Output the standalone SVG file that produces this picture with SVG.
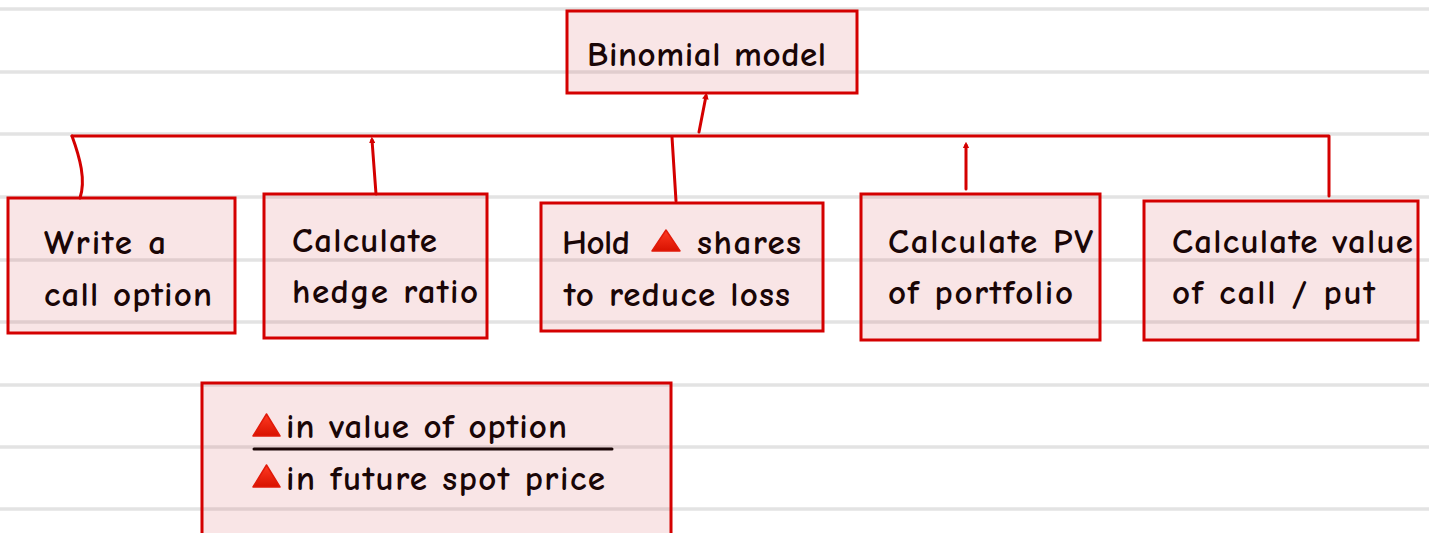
<svg xmlns="http://www.w3.org/2000/svg" width="1429" height="533" viewBox="0 0 1429 533">
  <defs>
    <style>
      .rule { stroke: #e3e3e3; stroke-width: 3.5; }
      .box { fill: rgb(215,82,88); fill-opacity: 0.15; stroke: #d40000; stroke-width: 3; }
      .lbl { font-family: "Comic Neue", "Liberation Sans", "DejaVu Sans", sans-serif; font-size: 35px; font-weight: 700; fill: #1a0606; }
      .wire { fill: none; stroke: #d40000; stroke-width: 3; stroke-linecap: round; stroke-linejoin: round; }
      .tri { fill: url(#triFill); stroke: #e11a0a; stroke-width: 1.5; stroke-linejoin: round; }
    </style>
    <linearGradient id="triFill" x1="0" y1="0" x2="0" y2="1">
      <stop offset="0" stop-color="#ff3a22"/>
      <stop offset="1" stop-color="#d81200"/>
    </linearGradient>
    <marker id="tip" viewBox="0 0 6 6" refX="3" refY="3" markerWidth="2.2" markerHeight="2.2" orient="auto-start-reverse">
      <path d="M0,0 L6,3 L0,6 z" fill="#d40000"/>
    </marker>
  </defs>

  <!-- ruled paper background -->
  <rect width="1429" height="533" fill="#ffffff"/>
  <g id="rules">
    <line class="rule" x1="0" y1="9" x2="1429" y2="9"/>
    <line class="rule" x1="0" y1="72" x2="1429" y2="72"/>
    <line class="rule" x1="0" y1="134" x2="1429" y2="134"/>
    <line class="rule" x1="0" y1="197" x2="1429" y2="197"/>
    <line class="rule" x1="0" y1="260" x2="1429" y2="260"/>
    <line class="rule" x1="0" y1="322" x2="1429" y2="322"/>
    <line class="rule" x1="0" y1="385" x2="1429" y2="385"/>
    <line class="rule" x1="0" y1="447" x2="1429" y2="447"/>
    <line class="rule" x1="0" y1="509" x2="1429" y2="509"/>
  </g>

  <!-- connectors -->
  <g id="connectors">
    <path class="wire" d="M72,136 L1329,136 L1329,196"/>
    <path class="wire" d="M72,136 C80,158 86,180 80,198"/>
    <path class="wire" d="M376,194 L372,140" marker-end="url(#tip)"/>
    <path class="wire" d="M699,132 L706,96" marker-end="url(#tip)"/>
    <path class="wire" d="M672,137 L676,201"/>
    <path class="wire" d="M966,189 L966,145" marker-end="url(#tip)"/>
  </g>

  <g id="node-binomial">
    <rect class="box" x="567" y="11" width="290" height="82"/>
    <text class="lbl" x="587" y="66" textLength="239" lengthAdjust="spacing">Binomial model</text>
  </g>

  <g id="node-write">
    <rect class="box" x="8" y="198" width="227" height="135"/>
    <text class="lbl" x="44" y="254" textLength="122" lengthAdjust="spacing">Write a</text>
    <text class="lbl" x="44" y="306" textLength="168" lengthAdjust="spacing">call option</text>
  </g>

  <g id="node-hedge">
    <rect class="box" x="264" y="194" width="223" height="144"/>
    <text class="lbl" x="292" y="252" textLength="145" lengthAdjust="spacing">Calculate</text>
    <text class="lbl" x="292" y="303" textLength="186" lengthAdjust="spacing">hedge ratio</text>
  </g>

  <g id="node-hold">
    <rect class="box" x="541" y="203" width="282" height="128"/>
    <text class="lbl" x="562" y="254" textLength="68" lengthAdjust="spacing">Hold</text>
    <polygon class="tri" points="666,230 680,251 652,251"/>
    <text class="lbl" x="697" y="254" textLength="104" lengthAdjust="spacing">shares</text>
    <text class="lbl" x="564" y="306" textLength="226" lengthAdjust="spacing">to reduce loss</text>
  </g>

  <g id="node-pv">
    <rect class="box" x="861" y="194" width="239" height="146"/>
    <text class="lbl" x="888" y="253" textLength="205" lengthAdjust="spacing">Calculate PV</text>
    <text class="lbl" x="888" y="304" textLength="185" lengthAdjust="spacing">of portfolio</text>
  </g>

  <g id="node-value">
    <rect class="box" x="1144" y="201" width="274" height="139"/>
    <text class="lbl" x="1172" y="253" textLength="241" lengthAdjust="spacing">Calculate value</text>
    <text class="lbl" x="1172" y="304" textLength="203" lengthAdjust="spacing">of call / put</text>
  </g>

  <g id="node-ratio">
    <rect class="box" x="202" y="383" width="469" height="170"/>
    <polygon class="tri" points="266.5,414 280,436 253,436"/>
    <text class="lbl" x="286" y="438" textLength="281" lengthAdjust="spacing">in value of option</text>
    <line x1="254" y1="449" x2="612" y2="449" stroke="#1a0606" stroke-width="3" stroke-linecap="round"/>
    <polygon class="tri" points="266.5,465 280,487 253,487"/>
    <text class="lbl" x="286" y="490" textLength="319" lengthAdjust="spacing">in future spot price</text>
  </g>
</svg>
